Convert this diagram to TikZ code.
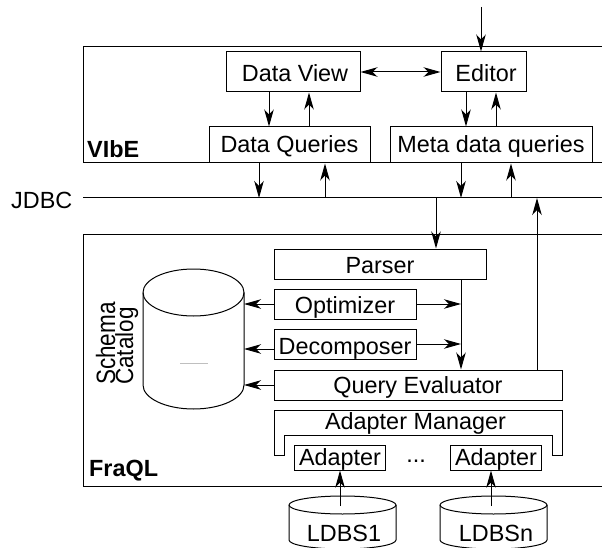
\documentclass[tikz,border=0pt]{standalone}
\usepackage{fontspec}
\setmainfont{Liberation Sans}
\usetikzlibrary{arrows.meta}
\newcommand{\fs}{\fontsize{23.4}{23.4}\selectfont}
\tikzset{
  lbl/.style={font=\fs,inner sep=0pt},
  bx/.style={draw,line width=1pt,inner sep=0pt,font=\fs},
  bl/.style={text height=#1,text depth=0pt},
  arr/.style={line width=1pt,-{Stealth[length=17pt,width=9.5pt,inset=5pt]}},
  darr/.style={line width=1pt,{Stealth[length=17pt,width=9.5pt,inset=5pt]}-{Stealth[length=17pt,width=9.5pt,inset=5pt]}},
  ln/.style={line width=1pt},
}
\begin{document}
\begin{tikzpicture}[x=1pt,y=-1pt]
\useasboundingbox (0,0) rectangle (602,548);
\clip (0,0) rectangle (602,548);
% frames
\draw[ln] (602,47) -- (83,47) -- (83,163) -- (602,163);
\draw[ln] (602,234) -- (83,234) -- (83,486) -- (602,486);
% VIbE
\node[bx,bl=20pt,minimum width=134pt,minimum height=40pt] (dv) at (293,72) {\hspace{4pt}Data View};
\node[bx,bl=20pt,minimum width=85pt,minimum height=40pt] (ed) at (483.5,72) {\hspace{5pt}Editor};
\node[bx,bl=16pt,fill=white,minimum width=161pt,minimum height=36pt] (dq) at (289.5,145) {Data Queries};
\node[bx,bl=16pt,fill=white,minimum width=202pt,minimum height=36pt] (mq) at (491,145) {Meta data queries};
\node[lbl,font=\fs\bfseries,anchor=base west] (vibe) at (87,158) {VIbE};
\node[lbl,anchor=base west] (jdbc) at (11,208) {JDBC};
\coordinate (busL) at (83,198);
\coordinate (busR) at (602,198);
\coordinate (top) at (481,7);
\draw[ln] (busL) -- (busR);
\draw[arr] (top) -- (ed.north -| top);
\draw[darr] (dv.east) -- (ed.west);
\draw[arr] (269,0 |- dv.south) -- (269,0 |- dq.north);
\draw[arr] (309,0 |- dq.north) -- (309,0 |- dv.south);
\draw[arr] (466,0 |- ed.south) -- (466,0 |- mq.north);
\draw[arr] (496,0 |- mq.north) -- (496,0 |- ed.south);
\draw[arr] (259,0 |- dq.south) -- (259,0 |- busL);
\draw[arr] (325,0 |- busL) -- (325,0 |- dq.south);
\draw[arr] (461,0 |- mq.south) -- (461,0 |- busL);
\draw[arr] (511,0 |- busL) -- (511,0 |- mq.south);
% FraQL
\node[bx,bl=18pt,minimum width=212pt,minimum height=30pt] (pa) at (380,264) {Parser};
\node[bx,bl=18pt,minimum width=142pt,minimum height=30pt] (op) at (345,304) {Optimizer};
\node[bx,bl=20pt,minimum width=142pt,minimum height=30pt] (de) at (345,344) {Decomposer};
\node[bx,bl=16pt,minimum width=288pt,minimum height=30pt] (qe) at (418,385) {Query Evaluator\hspace{6pt}};
\draw[ln] (274,455) -- (274,410) -- (562,410) -- (562,455) -- (552,455) -- (552,435) -- (284,435) -- (284,455) -- cycle;
\node[lbl,bl=14pt] (am) at (415.5,422) {Adapter Manager};
\node[bx,bl=15pt,minimum width=91pt,minimum height=25pt] (a1) at (340,457.5) {Adapter};
\node[bx,bl=15pt,minimum width=91pt,minimum height=25pt] (a2) at (496,457.5) {Adapter};
\node[lbl,anchor=base] (dots) at (416,462) {...};
\node[lbl,font=\fs\bfseries,anchor=base west] (fraql) at (89,476) {FraQL};
% schema cylinder
\draw[ln] (143,292.5) arc[start angle=180,end angle=0,x radius=50.5pt,y radius=23.5pt]
  -- (244,385) arc[start angle=0,end angle=180,x radius=50.5pt,y radius=-24pt] -- cycle;
\draw[ln] (143,292.5) arc[start angle=180,end angle=360,x radius=50.5pt,y radius=23.5pt];
\draw[line width=1pt,black!25] (180,363) -- (208,363);
\node[lbl,rotate=90,anchor=base west,font=\fontsize{22.5}{22.5}\selectfont] (sc1) at (115,385) {\scalebox{1}[1.18]{Schema}};
\node[lbl,rotate=90,anchor=base west,font=\fontsize{22.5}{22.5}\selectfont] (sc2) at (133,385) {\scalebox{1}[1.1]{Catalog}};
\coordinate (cy1) at (244,304);
\coordinate (cy2) at (244,349);
\coordinate (cy3) at (244,385);
\draw[arr] (274,304) -- (cy1);
\draw[arr] (274,349) -- (cy2);
\draw[arr] (qe.west) -- (cy3);
\coordinate (pipe) at (461,0);
\draw[arr] (op.east) -- (pipe |- op.east);
\draw[arr] (de.east) -- (pipe |- de.east);
\draw[arr] (pipe |- pa.south) -- (pipe |- qe.north);
\draw[arr] (436,0 |- busL) -- (436,0 |- pa.north);
\draw[arr] (537,0 |- qe.north) -- (537,0 |- busL);
% LDBS
\foreach \cx in {342.5,493.5}{
  \draw[ln] ({\cx-53.5},505) arc[start angle=180,end angle=0,x radius=53.5pt,y radius=9pt]
    -- ({\cx+53.5},540) arc[start angle=0,end angle=180,x radius=53.5pt,y radius=-9pt] -- cycle;
  \draw[ln] ({\cx-53.5},505) arc[start angle=180,end angle=360,x radius=53.5pt,y radius=9pt];
}
\node[lbl,bl=18pt] (l1) at (344,532) {LDBS1};
\node[lbl,bl=18pt] (ln1) at (496,532) {LDBSn};
\coordinate (c1) at (340,506);
\coordinate (c2) at (491,506);
\draw[arr] (c1) -- (c1 |- a1.south);
\draw[arr] (c2) -- (c2 |- a2.south);
\end{tikzpicture}
\end{document}
